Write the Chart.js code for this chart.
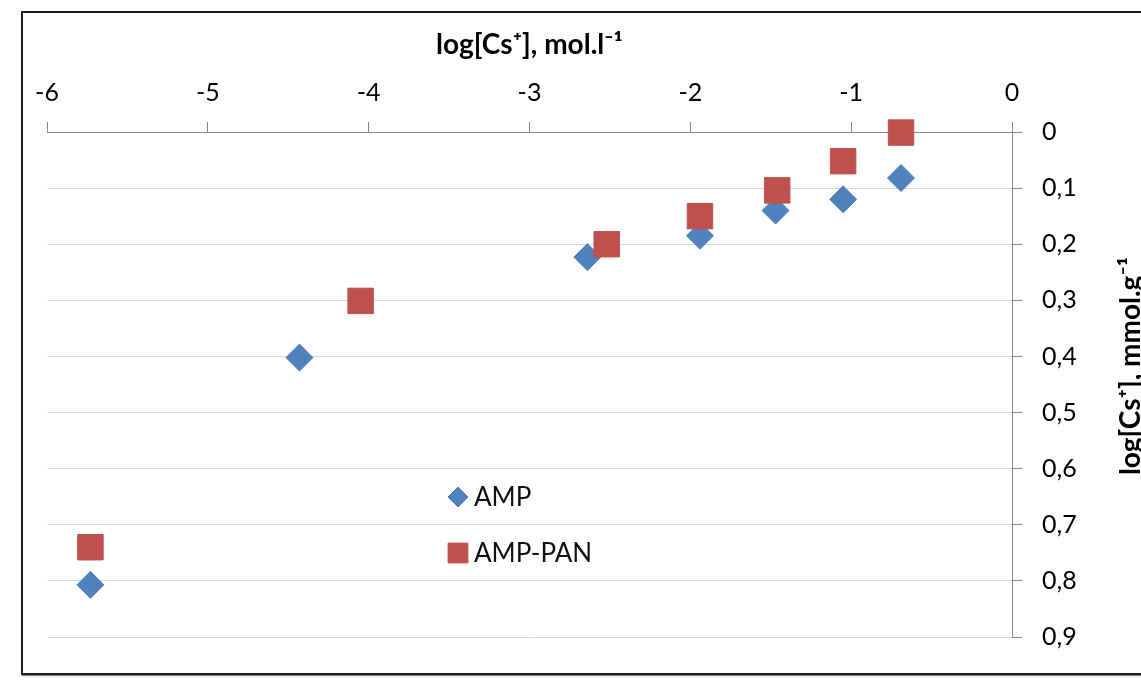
<!DOCTYPE html>
<html><head><meta charset="utf-8">
<script src="https://cdn.jsdelivr.net/npm/chart.js@4"></script>
<style>
html,body{margin:0;padding:0;background:#fff;overflow:hidden}
#wrap{position:relative;width:1141px;height:689px}
#frame{position:absolute;left:21px;top:11px;width:1200px;height:660px;border:2px solid #1e1e1e;box-shadow:1px 1px 1px #888;pointer-events:none}
canvas{position:absolute;left:0;top:0}
</style></head>
<body>
<div id="wrap"><canvas id="c" width="1141" height="689"></canvas><div id="frame"></div></div>
<script>
// values
const ampX=[-5.73,-4.43,-2.64,-1.94,-1.47,-1.05,-0.69];
const ampY=[0.807,0.402,0.223,0.185,0.140,0.120,0.082];
const panX=[-5.73,-4.05,-2.52,-1.94,-1.46,-1.05,-0.69];
const panY=[0.740,0.301,0.200,0.150,0.104,0.052,0.001];
const xTitle='log[Cs⁺], mol.l⁻¹';
const yTitle='log[Cs⁺], mmol.g⁻¹';
const FONT='Lato, "Open Sans", sans-serif';
const BLUE='#4F81BD',RED='#C0504D',AXIS='#898989',GRID='#D9D9D9';

const pts=(xs,ys)=>xs.map((x,i)=>({x,y:ys[i]}));

function marker(ctx,style,r,x,y,color){
  ctx.save();ctx.fillStyle=color;ctx.strokeStyle=color;ctx.lineWidth=1;
  if(Chart.helpers&&Chart.helpers.drawPoint){Chart.helpers.drawPoint(ctx,{pointStyle:style,radius:r,rotation:0,borderWidth:1},x,y);}
  else{ctx.beginPath();
    if(style==='rect'){const s=r*Math.SQRT1_2;ctx.rect(x-s,y-s,2*s,2*s);}
    else{ctx.moveTo(x-r,y);ctx.lineTo(x,y-r);ctx.lineTo(x+r,y);ctx.lineTo(x,y+r);ctx.closePath();}
    ctx.fill();ctx.stroke();}
  ctx.restore();
}

// legend sits inside the plot, one entry per row
const sideLegend={id:'sideLegend',afterDraw(chart){
  const ctx=chart.ctx;const rows=[497,553];
  chart.data.datasets.forEach((ds,i)=>{
    marker(ctx,ds.pointStyle,ds.pointStyle==='rect'?14:10,458,rows[i],ds.backgroundColor);
    ctx.save();ctx.fillStyle='#111';ctx.font='26px '+FONT;ctx.textBaseline='middle';ctx.textAlign='left';
    ctx.fillText(ds.label,474,rows[i]+1);ctx.restore();
  });
}};

// right-hand title reads bottom to top, partly cut by the page edge
const rightTitle={id:'rightTitle',afterDraw(chart){
  const ctx=chart.ctx;
  ctx.save();ctx.translate(1140,366);ctx.rotate(-Math.PI/2);
  ctx.font='bold 28px '+FONT;ctx.fillStyle='#000';ctx.textAlign='center';ctx.textBaseline='alphabetic';
  ctx.fillText(yTitle,0,0);ctx.restore();
}};

new Chart(document.getElementById('c'),{
  type:'scatter',
  data:{datasets:[
    {label:'AMP',data:pts(ampX,ampY),pointStyle:'rectRot',pointRadius:13.5,pointHoverRadius:13.5,backgroundColor:BLUE,borderColor:BLUE,borderWidth:1,order:2,clip:false},
    {label:'AMP-PAN',data:pts(panX,panY),pointStyle:'rect',pointRadius:18,pointHoverRadius:18,backgroundColor:RED,borderColor:RED,borderWidth:1,order:1,clip:false}
  ]},
  options:{
    responsive:false,animation:false,
    layout:{padding:{left:47,right:0,top:0,bottom:52}},
    plugins:{legend:{display:false},tooltip:{enabled:false}},
    scales:{
      x:{type:'linear',position:'top',min:-6,max:0,
        afterFit:s=>{s.height=132;},
        ticks:{stepSize:1,color:'#000',font:{family:FONT,size:25},padding:14,callback:v=>String(v)},
        grid:{drawOnChartArea:false,tickLength:10,tickColor:AXIS},
        border:{color:AXIS,width:1},
        title:{display:true,text:xTitle,color:'#000',font:{family:FONT,size:28,weight:'bold'},padding:{top:28,bottom:0}}
      },
      y:{type:'linear',position:'right',reverse:true,min:0,max:0.9,
        afterFit:s=>{s.width=129;},
        ticks:{stepSize:0.1,color:'#000',font:{family:FONT,size:25},padding:20,
          callback:v=>v===0?'0':v.toFixed(1).replace('.',',')},
        grid:{color:GRID,lineWidth:1,tickLength:10,tickColor:AXIS},
        border:{color:AXIS,width:1}
      }
    }
  },
  plugins:[sideLegend,rightTitle]
});
</script>
</body></html>
